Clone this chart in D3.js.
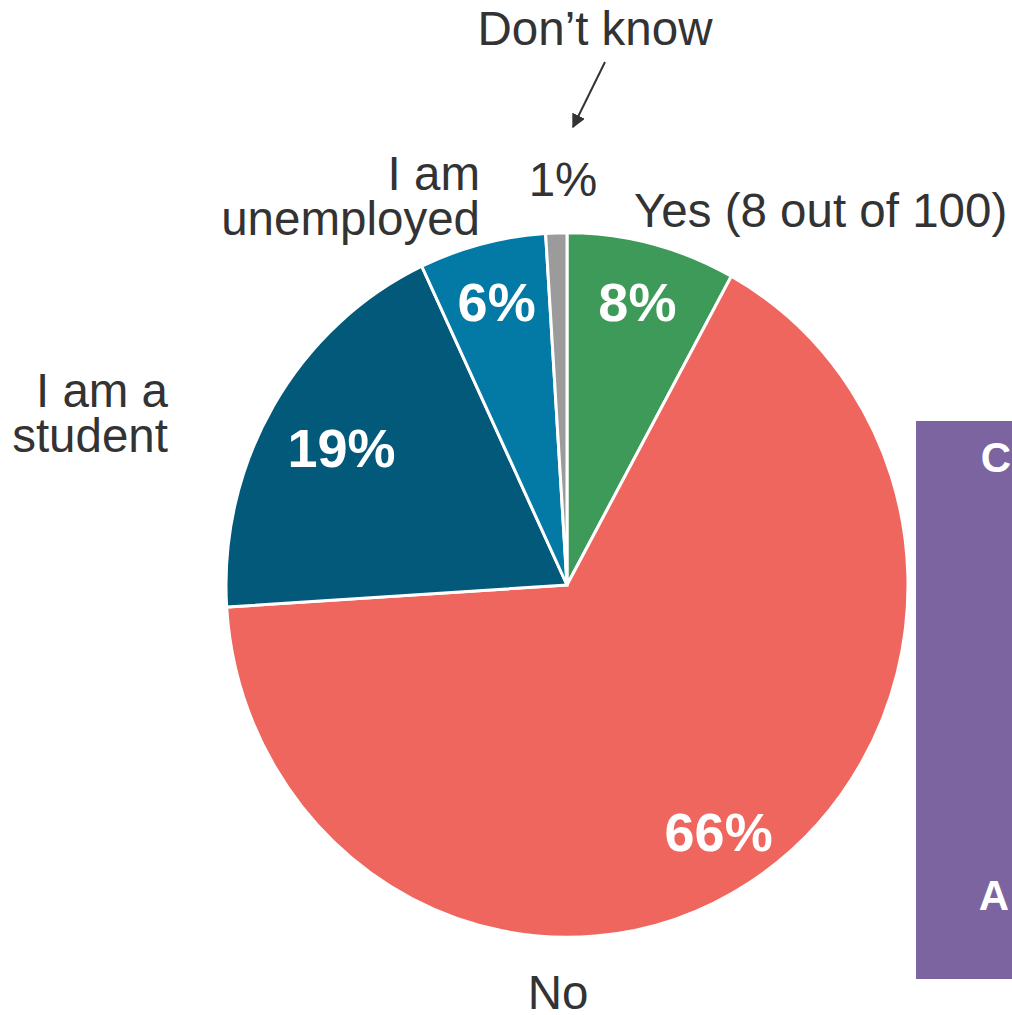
<!DOCTYPE html>
<html>
<head>
<meta charset="utf-8">
<script src="https://cdn.jsdelivr.net/npm/d3@7"></script>
<style>
  body { margin: 0; background: #fff; }
  svg text { font-family: "Liberation Sans", Arial, sans-serif; }
</style>
</head>
<body>
<div id="chart"></div>
<script>
// Survey answers, clockwise from 12 o'clock
const categories = ["Yes", "No", "I am a student", "I am unemployed", "Don't know"];
const shares = [8, 66, 19, 6, 1];
const sliceColors = ["#3d9a58", "#ee665e", "#03597a", "#0379a5", "#9b9b9b"];

const width = 1012, height = 1015;
const cx = 567, cy = 585;
const radius = 341;
const stretchY = 1.033; // reference pie is slightly taller than wide

const svg = d3.select("#chart").append("svg")
  .attr("width", width)
  .attr("height", height);

// purple side panel (cut off by the frame)
const panel = svg.append("g");
panel.append("rect")
  .attr("x", 916).attr("y", 421)
  .attr("width", 120).attr("height", 558)
  .attr("fill", "#7c64a0");
panel.append("text")
  .attr("x", 996).attr("y", 472)
  .attr("text-anchor", "middle")
  .attr("font-size", 42).attr("font-weight", "bold")
  .attr("fill", "#fff")
  .text("C");
panel.append("text")
  .attr("x", 994).attr("y", 910)
  .attr("text-anchor", "middle")
  .attr("font-size", 42).attr("font-weight", "bold")
  .attr("fill", "#fff")
  .text("A");

const pie = d3.pie().sort(null).value(d => d);
const arcs = pie(shares);

const arc = d3.arc().innerRadius(0).outerRadius(radius);
// the student label sits a bit further in than the others
const labelRadius = i => categories[i] === "I am a student" ? 262 : 283;

const pieG = svg.append("g")
  .attr("transform", `translate(${cx},${cy}) scale(1,${stretchY})`);

pieG.selectAll("path.slice")
  .data(arcs)
  .enter()
  .append("path")
  .attr("class", "slice")
  .attr("d", arc)
  .attr("fill", (d, i) => sliceColors[i])
  .attr("stroke", "#fff")
  .attr("stroke-width", 3)
  .attr("vector-effect", "non-scaling-stroke");

// percentage labels inside the bigger slices
const labelG = svg.append("g")
  .attr("transform", `translate(${cx},${cy})`);

const centroid = d => {
  const r = labelRadius(d.index);
  return d3.arc().innerRadius(r).outerRadius(r).centroid(d);
};

labelG.selectAll("text.pct")
  .data(arcs.filter(d => d.data >= 5))
  .enter()
  .append("text")
  .attr("class", "pct")
  .attr("x", d => centroid(d)[0])
  .attr("y", d => centroid(d)[1] * stretchY)
  .attr("dy", "0.36em")
  .attr("text-anchor", "middle")
  .attr("font-size", 54)
  .attr("font-weight", "bold")
  .attr("fill", "#fff")
  .text(d => d.data + "%");

// category labels outside
const dark = "#333333";
const outer = svg.append("g")
  .attr("font-size", 47.5)
  .attr("fill", dark);

function lines(x, y, anchor, arr) {
  const t = outer.append("text")
    .attr("x", x).attr("y", y)
    .attr("text-anchor", anchor);
  arr.forEach((s, i) => {
    t.append("tspan").attr("x", x).attr("dy", i === 0 ? 0 : 45).text(s);
  });
}

lines(634, 227, "start", ["Yes (8 out of 100)"]);
lines(558, 1009, "middle", ["No"]);
lines(168, 407, "end", ["I am a", "student"]);
lines(480, 190, "end", ["I am", "unemployed"]);
lines(595, 45, "middle", ["Don\u2019t know"]);
lines(563, 196, "middle", [shares[4] + "%"]);

// arrow from "Don't know" down to the tiny slice
svg.append("defs").append("marker")
  .attr("id", "arrow")
  .attr("viewBox", "0 0 10 10")
  .attr("refX", 9).attr("refY", 5)
  .attr("markerWidth", 7).attr("markerHeight", 7)
  .attr("orient", "auto")
  .append("path")
  .attr("d", "M0,0 L10,5 L0,10 Z")
  .attr("fill", dark);

svg.append("line")
  .attr("x1", 605).attr("y1", 62)
  .attr("x2", 573).attr("y2", 127)
  .attr("stroke", dark)
  .attr("stroke-width", 2)
  .attr("marker-end", "url(#arrow)");
</script>
</body>
</html>
